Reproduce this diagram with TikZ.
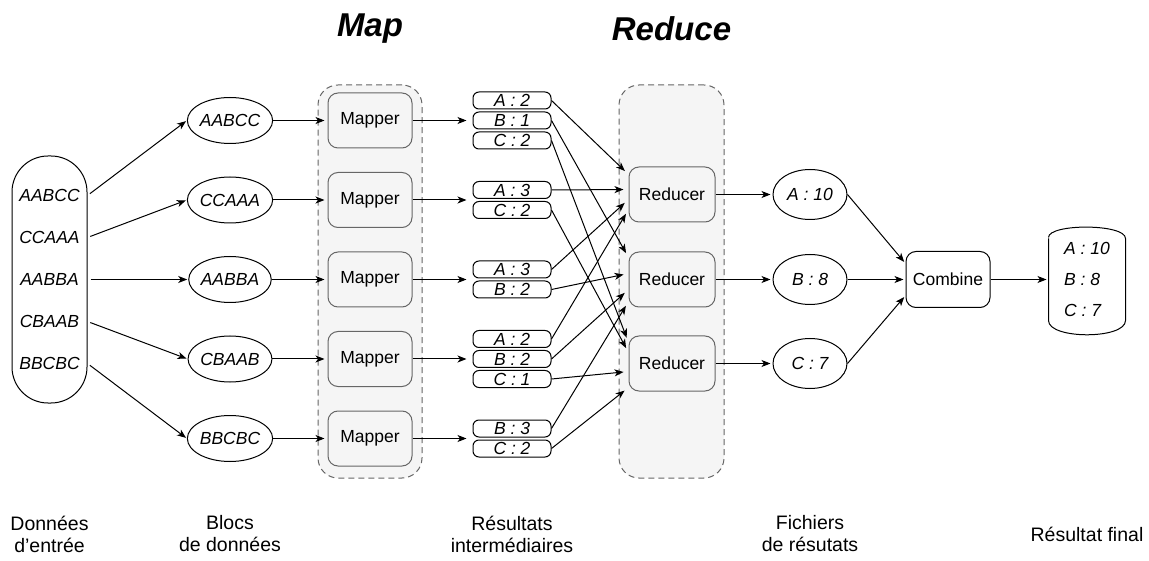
\documentclass[tikz,border=0pt]{standalone}
\usepackage{fontspec}
\setmainfont{Liberation Sans}
\usetikzlibrary{positioning,shapes.geometric,arrows.meta}
\definecolor{boxgray}{HTML}{F5F5F5}
\definecolor{edgegray}{HTML}{666666}

\begin{document}
\begin{tikzpicture}[x=1pt, y=1pt, node distance=79.5pt, on grid, shorten >=1pt,
    >={Stealth[length=9pt,width=7pt,inset=2.5pt]}, line width=1pt,
    every node/.style={font=\fontsize{17.5}{20}\selectfont},
    inbox/.style={draw, rounded corners=36pt, minimum width=75pt, minimum height=247pt},
    word/.style={font=\fontsize{17.5}{20}\selectfont\itshape},
    blk/.style={draw, ellipse, inner sep=0pt, minimum width=76pt, minimum height=46pt,
        font=\fontsize{17.5}{20}\selectfont\itshape},
    cnt/.style={blk, minimum width=74pt, minimum height=50pt},
    grp/.style={draw=edgegray, dash pattern=on 6pt off 4pt, fill=boxgray, rounded corners=20pt,
        minimum width=104pt, minimum height=393pt},
    task/.style={draw=edgegray, fill=boxgray, rounded corners=10pt, minimum width=84pt, minimum height=55pt},
    kv/.style={draw, rounded corners=6pt, minimum width=78pt, minimum height=17pt, inner sep=0pt,
        font=\fontsize{17.5}{20}\selectfont\itshape},
    caption/.style={align=center, font=\fontsize{19.5}{22}\selectfont},
    phase/.style={anchor=base, font=\fontsize{33}{38}\selectfont\bfseries\itshape}]

    \useasboundingbox (0,0) rectangle (1149,-561);

    % the two phases
    \node[grp] (mapgrp) at (370,-281.5) {};
    \node[grp, minimum width=105pt] (redgrp) at (671.5,-281.5) {};
    \node[phase] (maptitle) at ([yshift=48pt]mapgrp.north) {Map};
    \node[phase] (redtitle) at ([yshift=44pt]redgrp.north) {Reduce};

    % input
    \node[inbox] (in) at (49.5,-279.5) {};
    \node[word] (t3) at (in) {AABBA};
    \node[word] (t2) [above=42pt of t3] {CCAAA};
    \node[word] (t1) [above=42pt of t2] {AABCC};
    \node[word] (t4) [below=42pt of t3] {CBAAB};
    \node[word] (t5) [below=42pt of t4] {BBCBC};

    % blocks
    \node[blk] (b3) [right=180.5pt of t3] {AABBA};
    \node[blk] (b2) [above=of b3] {CCAAA};
    \node[blk] (b1) [above=of b2] {AABCC};
    \node[blk] (b4) [below=of b3] {CBAAB};
    \node[blk] (b5) [below=of b4] {BBCBC};

    % mappers
    \node[task] (m1) [right=140pt of b1] {Mapper};
    \node[task] (m2) [right=140pt of b2] {Mapper};
    \node[task] (m3) [right=140pt of b3] {Mapper};
    \node[task] (m4) [right=140pt of b4] {Mapper};
    \node[task] (m5) [right=140pt of b5] {Mapper};

    % intermediate results
    \node[kv] (r1b) [right=142pt of m1] {B : 1};
    \node[kv] (r1a) [above=20pt of r1b] {A : 2};
    \node[kv] (r1c) [below=20pt of r1b] {C : 2};
    \node[kv] (r2a) [right=142pt of m2, yshift=10pt] {A : 3};
    \node[kv] (r2c) [below=20pt of r2a] {C : 2};
    \node[kv] (r3a) [right=142pt of m3, yshift=10pt] {A : 3};
    \node[kv] (r3b) [below=20pt of r3a] {B : 2};
    \node[kv] (r4b) [right=142pt of m4] {B : 2};
    \node[kv] (r4a) [above=20pt of r4b] {A : 2};
    \node[kv] (r4c) [below=20pt of r4b] {C : 1};
    \node[kv] (r5b) [right=142pt of m5, yshift=10pt] {B : 3};
    \node[kv] (r5c) [below=20pt of r5b] {C : 2};

    % reducers
    \node[task, minimum width=86pt] (red2) [right=302pt of m3] {Reducer};
    \node[task, minimum width=86pt] (red1) [above=85pt of red2] {Reducer};
    \node[task, minimum width=86pt] (red3) [below=84pt of red2] {Reducer};

    % output files
    \node[cnt] (f1) [right=138pt of red1] {A : 10};
    \node[cnt] (f2) [right=138pt of red2] {B : 8};
    \node[cnt] (f3) [right=138pt of red3] {C : 7};

    \node[draw, rounded corners=10pt, minimum width=84pt, minimum height=56pt] (comb) [right=138pt of f2] {Combine};
    \node[word, align=left, minimum width=76pt, minimum height=76pt,
        font=\fontsize{17.5}{31}\selectfont\itshape] (res) [right=139pt of comb] {A : 10\\B : 8\\C : 7};
    \draw (res.north west) -- (res.south west) .. controls +(0,-19) and +(0,-19) .. (res.south east)
        -- (res.north east) .. controls +(0,15) and +(0,15) .. (res.north west);

    % captions
    \node[caption] (lab1) [below=254.5pt of in] {Données\\d'entrée};
    \node[caption] (lab2) at (b3 |- lab1) {Blocs\\de données};
    \node[caption] (lab3) at (r3b |- lab1) {Résultats\\intermédiaires};
    \node[caption] (lab4) at (f2 |- lab1) {Fichiers\\de résutats};
    \node[caption] (lab5) at (res |- lab1) {Résultat final};

    \path[->, shorten <=3pt]
    (in.east |- t1) edge (b1.west)
    (in.east |- t2) edge (b2.west)
    (in.east |- t3) edge (b3.west)
    (in.east |- t4) edge (b4.west)
    (in.east |- t5) edge (b5.west);

    \path[->, shorten >=3pt]
    (b1) edge (m1)
    (b2) edge (m2)
    (b3) edge (m3)
    (b4) edge (m4)
    (b5) edge (m5);

    \path[->, shorten >=6pt]
    (m1) edge (m1 -| r1b.west)
    (m2) edge (m2 -| r1b.west)
    (m3) edge (m3 -| r1b.west)
    (m4) edge (m4 -| r1b.west)
    (m5) edge (m5 -| r1b.west);

    \path[->, shorten >=5pt]
    (r1a.east) edge ([yshift=20pt]red1.west)
    (r2a.east) edge ([yshift=5pt]red1.west)
    (r3a.east) edge ([yshift=-5pt]red1.west)
    (r4a.east) edge ([yshift=-15pt]red1.west)
    (r1b.east) edge ([yshift=22pt]red2.west)
    (r3b.east) edge ([yshift=6pt]red2.west)
    (r4b.east) edge ([yshift=-10pt]red2.west)
    (r5b.east) edge ([yshift=-22pt]red2.west)
    (r1c.east) edge ([yshift=21pt]red3.west)
    (r2c.east) edge ([yshift=11pt]red3.west)
    (r4c.east) edge ([yshift=-8pt]red3.west)
    (r5c.east) edge ([yshift=-24pt]red3.west);

    \path[->, shorten >=2pt]
    (red1) edge (f1)
    (red2) edge (f2)
    (red3) edge (f3)
    (f1.east) edge ([yshift=16pt]comb.west)
    (f2) edge (comb)
    (f3.east) edge ([yshift=-16pt]comb.west)
    (comb) edge (res);
\end{tikzpicture}
\end{document}
